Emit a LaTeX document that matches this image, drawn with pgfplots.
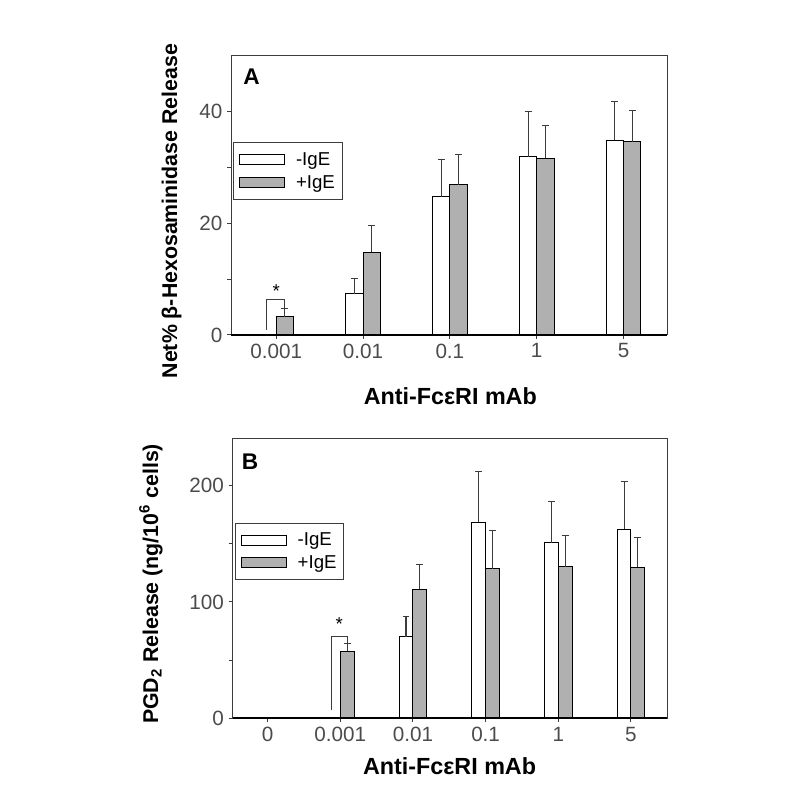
\documentclass[border=0pt]{standalone}
\usepackage{pgfplots}
\pgfplotsset{compat=1.18}
\usepackage{fontspec}
\setmainfont{Liberation Sans}
\definecolor{barg}{RGB}{176,176,176}
\definecolor{axg}{RGB}{60,60,60}
\definecolor{tickg}{RGB}{75,75,75}

\pgfplotsset{
  legimg/.style={legend image code/.code={\draw[##1] (0pt,-3.75pt) rectangle (33.75pt,3.75pt); \path (40.5pt,0pt);}},
  panel/.style={
    scale only axis, width=327pt, height=209.25pt, anchor=south west,
    axis line style={axg, line width=0.75pt},
    ybar, bar width=0.2,
    tick align=outside, tick style={axg, line width=0.75pt},
    major tick length=3pt, minor tick length=3pt,
    xtick pos=bottom, ytick pos=left,
    ticklabel style={font=\fontsize{15.5}{17}\selectfont, text=tickg},
    yticklabel style={/pgf/number format/assume math mode=true},
    xlabel style={font=\bfseries\fontsize{17.5}{20}\selectfont},
    ylabel style={font=\bfseries\fontsize{16}{19}\selectfont},
    ymin=0,
    legend style={anchor=north west, draw=axg, line width=0.75pt,
      font=\fontsize{14}{16}\selectfont, cells={anchor=west},
      nodes={inner sep=1.5pt}, row sep=3pt, inner xsep=4pt, inner ysep=5.5pt},
    legend cell align=left,
    clip=false,
  },
  ebar/.style={error bars/.cd, y dir=plus, y explicit,
    error bar style={axg, line width=0.8pt},
    error mark options={rotate=90, axg, mark size=2.6pt, line width=0.8pt}},
}

\begin{document}
\begin{tikzpicture}
\useasboundingbox (0,0) rectangle (600pt,590.25pt);

% Panel A
\begin{axis}[panel, at={(173.25pt,339pt)},
  xmin=-0.52, xmax=4.5, ymax=50,
  xtick={0,1,2,3,4}, xticklabels={0.001,0.01,0.1,1,5},
  ytick={0,20,40}, minor ytick={10,30},
  xlabel={Anti-FcεRI mAb},
  ylabel={Net\% β-Hexosaminidase Release},
  xlabel style={at={(axis description cs:0.503,-0.221)}, anchor=center},
  ylabel style={at={(axis description cs:-0.136,0.444)}, anchor=center},
  legend style={at={(0.005,0.69)}},
]
\addplot[fill=white, draw=black, line width=0.75pt, bar shift=-0.1, legimg, ebar]
  table[x=x, y=y, y error=e] {
x y e
1 7.4 2.7
2 24.8 6.6
3 31.9 8.1
4 34.9 6.9
};
\addplot[fill=barg, draw=black, line width=0.75pt, bar shift=0.1, legimg, ebar]
  table[x=x, y=y, y error=e] {
x y e
0 3.3 1.5
1 14.8 4.9
2 26.9 5.5
3 31.7 5.8
4 34.6 5.6
};
\legend{-IgE,+IgE}
\draw[black, line width=1.5pt] (rel axis cs:0,0) -- (rel axis cs:1,0);
\draw[axg, line width=0.75pt] (axis cs:-0.107,0.9) |- (axis cs:0.096,6.4) -- (axis cs:0.096,4.5);
\node[font=\fontsize{14}{16}\selectfont, inner sep=0pt] at (axis cs:0,7.9) {*};
\node[font=\bfseries\fontsize{17}{20}\selectfont, inner sep=0pt] at (axis description cs:0.047,0.924) {A};
\end{axis}

% Panel B
\begin{axis}[panel, at={(174.5pt,51.5pt)},
  width=326pt, height=209.5pt, bar width=0.19,
  xmin=-0.48, xmax=5.5, ymax=240,
  xtick={0,1,2,3,4,5}, xticklabels={0,0.001,0.01,0.1,1,5},
  ytick={0,100,200}, minor ytick={50,150},
  xlabel={Anti-FcεRI mAb},
  ylabel={PGD\textsubscript{2} Release (ng/10\textsuperscript{6} cells)},
  xlabel style={at={(axis description cs:0.499,-0.173)}, anchor=center},
  ylabel style={at={(axis description cs:-0.188,0.481)}, anchor=center},
  legend style={at={(0.005,0.70)}},
]
\addplot[fill=white, draw=black, line width=0.75pt, bar shift=-0.095, legimg, ebar]
  table[x=x, y=y, y error=e] {
x y e
2 69.9 17.3
3 168.4 43.6
4 151.0 35.2
5 162.6 40.9
};
\addplot[fill=barg, draw=black, line width=0.75pt, bar shift=0.095, legimg, ebar]
  table[x=x, y=y, y error=e] {
x y e
1 57.5 6.5
2 110.8 21.0
3 128.7 33.0
4 130.4 26.4
5 130.0 25.4
};
\legend{-IgE,+IgE}
\draw[black, line width=1.5pt] (rel axis cs:0,0) -- (rel axis cs:1,0);
\draw[axg, line width=0.75pt] (axis cs:0.884,7.2) |- (axis cs:1.105,70.5) -- (axis cs:1.105,65);
\node[font=\fontsize{14}{16}\selectfont, inner sep=0pt] at (axis cs:0.986,81) {*};
\node[font=\bfseries\fontsize{17}{20}\selectfont, inner sep=0pt] at (axis description cs:0.040,0.917) {B};
\end{axis}
\end{tikzpicture}
\end{document}
